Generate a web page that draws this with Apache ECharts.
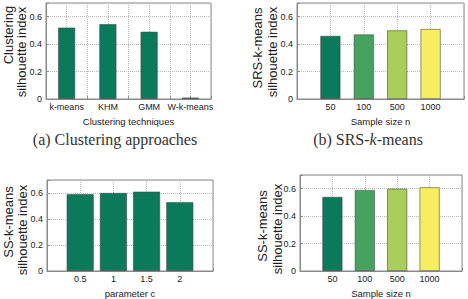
<!DOCTYPE html>
<html>
<head>
<meta charset="utf-8">
<script src="https://cdn.jsdelivr.net/npm/echarts@6/dist/echarts.min.js"></script>
<style>
    html, body { margin: 0; padding: 0; background: #fff; }
    #chart { width: 468px; height: 299px; }
</style>
</head>
<body>
<div id="chart"></div>
<script>
// values
var approaches = ['k-means', 'KHM', 'GMM', 'W-k-means'];
var approachSil = [0.52, 0.545, 0.49, 0.01];

var sampleSizes = ['50', '100', '500', '1000'];
var srsSil = [0.46, 0.47, 0.50, 0.51];

var paramC = ['0.5', '1', '1.5', '2'];
var ssParamSil = [0.59, 0.60, 0.61, 0.53];

var ssSampleSil = [0.54, 0.59, 0.60, 0.61];

var yTicks = [0, 0.2, 0.4, 0.6];

var teal = '#0b7a5b';
var sampleColors = ['#0b7a5b', '#46a35f', '#a8cf5b', '#f6ee60'];

var grids = [], xAxes = [], yAxes = [], series = [];

function addPanel(i, box, cats, vals, colors, xmin, xmax, xint, barW, xName) {
    grids.push({
        left: box[0], top: box[1], width: box[2], height: box[3],
        show: true, borderColor: '#8a8a8a', borderWidth: 1
    });
    xAxes.push({
        gridIndex: i, type: 'value', min: xmin, max: xmax, interval: xint,
        axisLine: {show: true, onZero: false, lineStyle: {color: '#8a8a8a'}},
        axisTick: {show: true, inside: true, length: 3, lineStyle: {color: '#8a8a8a'}},
        axisLabel: {
            fontSize: 9, color: '#222', margin: 3, fontFamily: 'Liberation Sans',
            showMinLabel: true, showMaxLabel: true,
            formatter: function (v) {
                var k = Math.round(v);
                if (Math.abs(v - k) < 1e-6 && k >= 1 && k <= cats.length) return cats[k - 1];
                return '';
            }
        },
        splitLine: {show: true, lineStyle: {type: 'dotted', color: '#b5b5b5'}},
        name: xName, nameLocation: 'middle', nameGap: 17,
        nameTextStyle: {fontSize: 9.5, color: '#222', fontFamily: 'Liberation Sans'}
    });
    yAxes.push({
        gridIndex: i, type: 'value', min: 0, max: 0.7, interval: 0.2,
        axisLine: {show: true, lineStyle: {color: '#8a8a8a'}},
        axisTick: {show: true, inside: true, length: 3, lineStyle: {color: '#8a8a8a'}},
        axisLabel: {
            fontSize: 9, color: '#222', margin: 4, fontFamily: 'Liberation Sans',
            formatter: function (v) {
                for (var t = 0; t < yTicks.length; t++) {
                    if (Math.abs(v - yTicks[t]) < 1e-6) return yTicks[t] === 0 ? '0' : yTicks[t].toFixed(1);
                }
                return '';
            }
        },
        splitLine: {show: true, lineStyle: {type: 'dotted', color: '#b5b5b5'}}
    });
    series.push({
        type: 'bar', xAxisIndex: i, yAxisIndex: i, barWidth: barW,
        itemStyle: {borderColor: '#4a4a4a', borderWidth: 0.6},
        data: vals.map(function (v, j) {
            return {value: [j + 1, v], itemStyle: {color: colors[j]}};
        })
    });
}

addPanel(0, [46, 3, 165, 96], approaches, approachSil, [teal, teal, teal, teal], 0.5, 4.5, 0.5, 17, 'Clustering techniques');
addPanel(1, [297, 3, 167, 96], sampleSizes, srsSil, sampleColors, 0, 5, 1, 20, 'Sample size n');
addPanel(2, [47, 180, 166, 97], paramC, ssParamSil, [teal, teal, teal, teal], 0, 5, 1, 27, 'parameter c');
addPanel(3, [300, 175, 162, 101], sampleSizes, ssSampleSil, sampleColors, 0, 5, 1, 20, 'Sample size n');

function yTitle(x, y, txt) {
    return {
        type: 'text', x: x, y: y, rotation: Math.PI / 2,
        style: {
            text: txt, align: 'center', verticalAlign: 'middle',
            fontSize: 13, fontFamily: 'Liberation Sans', fill: '#222'
        }
    };
}

var graphics = [
    yTitle(8, 35, 'Clustering'),
    yTitle(21, 52, 'silhouette index'),
    yTitle(257, 48, 'SRS-k-means'),
    yTitle(272, 52, 'silhouette index'),
    yTitle(8, 222, 'SS-k-means'),
    yTitle(22, 230, 'silhouette index'),
    yTitle(262, 226, 'SS-k-means'),
    yTitle(277, 229, 'silhouette index'),
    {
        type: 'text', x: 115, y: 139,
        style: {
            text: '(a) Clustering approaches', align: 'center', verticalAlign: 'middle',
            fontSize: 16, fontFamily: 'Liberation Serif', fill: '#333'
        }
    },
    {
        type: 'text', x: 368, y: 139,
        style: {
            text: '(b) SRS-{i|k}-means', align: 'center', verticalAlign: 'middle',
            fontSize: 16, fontFamily: 'Liberation Serif', fill: '#333',
            rich: {i: {fontStyle: 'italic', fontSize: 16, fontFamily: 'Liberation Serif', fill: '#333'}}
        }
    }
];

var myChart = echarts.init(document.getElementById('chart'), null, {renderer: 'svg'});
myChart.setOption({
    animation: false,
    backgroundColor: '#fff',
    grid: grids,
    xAxis: xAxes,
    yAxis: yAxes,
    series: series,
    graphic: graphics
});
</script>
</body>
</html>
